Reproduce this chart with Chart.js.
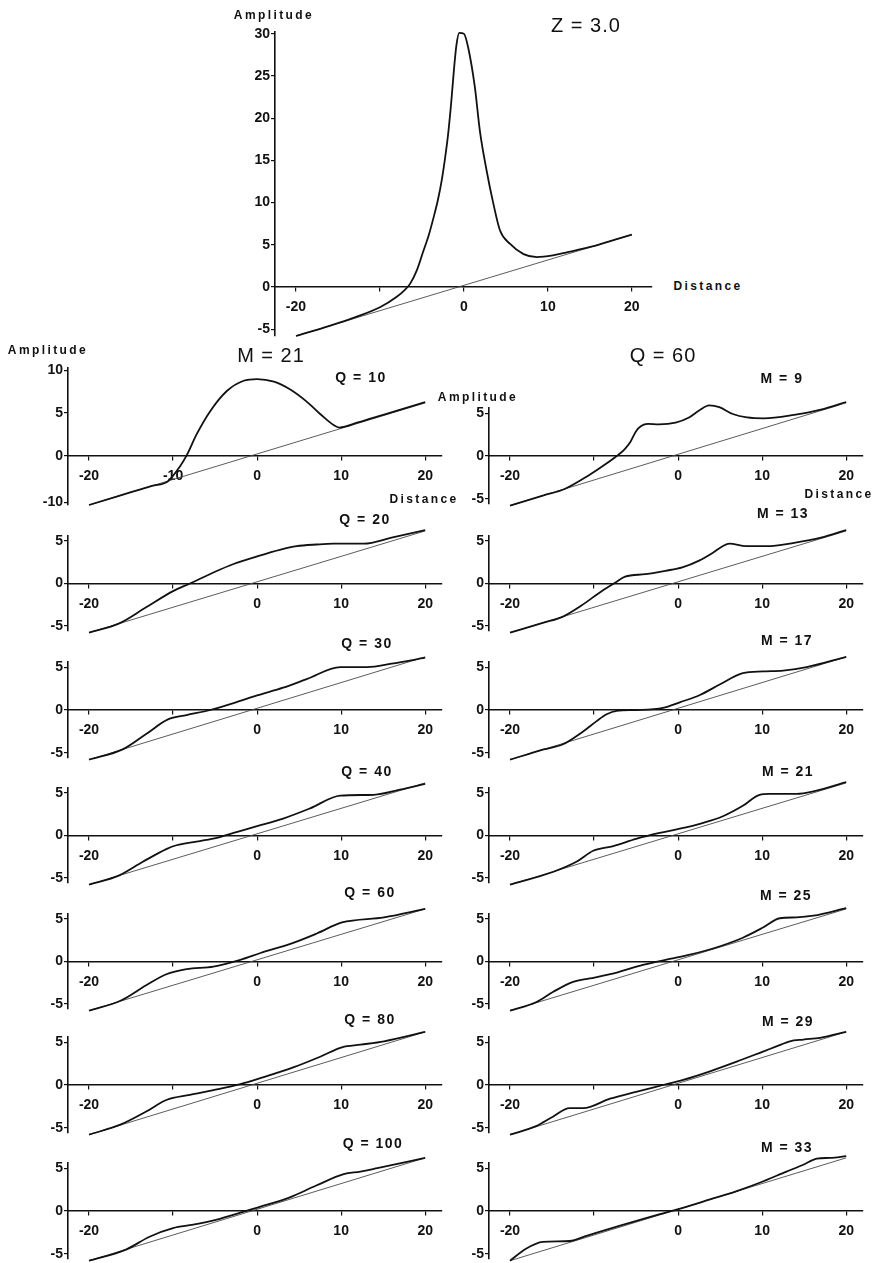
<!DOCTYPE html>
<html>
<head>
<meta charset="utf-8">
<script src="https://cdn.jsdelivr.net/npm/chart.js@4.4.1/dist/chart.umd.min.js"></script>
<style>
  html, body { margin: 0; padding: 0; background: #fff; }
  #page { position: relative; width: 876px; height: 1263px; overflow: hidden;
          font-family: "Liberation Sans", Arial, sans-serif; color: #111; }
  #page canvas { position: absolute; }
  .lbl { position: absolute; white-space: nowrap; transform: translate(-50%, -50%); z-index: 2; }
  .big { font-size: 20px; letter-spacing: 1px; }
  .axt { font-size: 12px; font-weight: bold; letter-spacing: 2.4px; }
  .ttl { font-size: 14px; font-weight: bold; letter-spacing: 1.5px; }
</style>
</head>
<body>
<div id="page"></div>
<script>
/* ---- data: [distance, amplitude] pairs ---- */

// the straight reference line drawn in every panel
const baseLine = [[-20, -5.8], [20, 6.2]];

// top panel, Z = 3.0
const curveZ30 = [[-20, -5.8], [-16, -4.6], [-13, -3.6], [-10, -2.4], [-8, -1.15], [-7, -0.3], [-6.4, 0.4],
  [-5.6, 2.0], [-4.85, 4.2], [-4.2, 6.1], [-3.65, 8.1], [-3.1, 10.3], [-2.65, 12.6], [-2.2, 15.6],
  [-1.87, 18.2], [-1.5, 22.0], [-1.2, 25.6], [-0.9, 28.6], [-0.55, 30.1], [0, 30.0], [0.5, 28.4],
  [1.3, 23.7], [1.9, 18.5], [2.7, 13.8], [3.5, 9.9], [4.3, 6.7], [5.5, 5.1], [7.1, 3.9], [8.7, 3.55],
  [10.6, 3.75], [12, 4.05], [13.8, 4.45], [16, 5.0], [18, 5.6], [20, 6.2]];

// left column, M = 21
const curveQ10 = [[-20, -5.8], [-15, -4.3], [-12.5, -3.55], [-10.6, -3.0], [-9.2, -1.3], [-8.4, 0], [-7.2, 2.5],
  [-5.6, 5.2], [-3.6, 7.6], [-1.6, 8.8], [0, 9.0], [2, 8.7], [3.9, 7.8], [5.9, 6.35], [7.5, 4.9],
  [9.1, 3.6], [9.8, 3.3], [12, 3.9], [15, 4.8], [20, 6.3]];
const curveQ20 = [[-20, -5.8], [-16.4, -4.7], [-13.2, -2.8], [-10, -0.9], [-8, 0], [-5.2, 1.3], [-2.8, 2.3],
  [0, 3.2], [2.8, 4.0], [4.7, 4.4], [7.1, 4.6], [9.1, 4.7], [12.7, 4.7], [16, 5.4], [20, 6.3]];
const curveQ30 = [[-20, -5.8], [-16, -4.6], [-13.2, -2.8], [-10.6, -1.1], [-8.4, -0.6], [-5.6, 0], [-2.8, 0.8],
  [0, 1.7], [3.1, 2.6], [5.9, 3.6], [9.9, 5.0], [13.1, 5.0], [16, 5.4], [20, 6.1]];
const curveQ40 = [[-20, -5.8], [-16.4, -4.7], [-13.6, -3.1], [-10.8, -1.6], [-9.6, -1.15], [-6.8, -0.65],
  [-4.8, -0.27], [-2.8, 0.3], [0, 1.1], [3.1, 2.0], [6.3, 3.2], [9.9, 4.7], [13.9, 4.8], [17, 5.4], [20, 6.1]];
const curveQ60 = [[-20, -5.8], [-16.2, -4.6], [-13.2, -2.8], [-10.8, -1.5], [-8.4, -0.9], [-5.2, -0.6],
  [-2, 0.2], [0.4, 1.0], [4.3, 2.2], [7.1, 3.3], [10.1, 4.6], [15.1, 5.2], [20, 6.2]];
const curveQ80 = [[-20, -5.8], [-16.2, -4.6], [-13.2, -3.1], [-10.8, -1.75], [-8, -1.15], [-5.2, -0.6],
  [-2, 0.1], [0.4, 0.8], [4.3, 2.05], [7.5, 3.3], [10.1, 4.4], [12.3, 4.7], [15.1, 5.1], [20, 6.2]];
const curveQ100 = [[-20, -5.8], [-15.6, -4.5], [-12.8, -3.0], [-10, -2.0], [-7.6, -1.6], [-4.8, -1.0],
  [-2, -0.2], [0.4, 0.5], [3.9, 1.6], [7.1, 3.0], [10.3, 4.3], [12.3, 4.6], [14.3, 5.0], [20, 6.2]];

// right column, Q = 60
const curveM9 = [[-20, -5.8], [-16, -4.6], [-13.5, -3.85], [-10.7, -2.3], [-8.7, -1.0], [-7.3, 0], [-6.4, 0.75],
  [-5.7, 1.6], [-5.0, 2.9], [-4.4, 3.5], [-3.6, 3.75], [-2.3, 3.7], [-0.3, 3.9], [1.3, 4.5], [2.5, 5.3],
  [3.7, 5.9], [4.9, 5.7], [6.5, 4.9], [8.2, 4.5], [10.2, 4.4], [13.8, 4.8], [17, 5.4], [20, 6.3]];
const curveM13 = [[-20, -5.8], [-16, -4.6], [-13.9, -4.0], [-11.5, -2.6], [-9.1, -0.9], [-7.5, 0.1], [-6.3, 0.8],
  [-3.9, 1.1], [-1.5, 1.5], [0.5, 1.9], [2.5, 2.7], [4.1, 3.6], [5.3, 4.4], [6.1, 4.7], [8.1, 4.4],
  [10.6, 4.4], [13.8, 4.8], [17, 5.4], [20, 6.3]];
const curveM17 = [[-20, -5.8], [-16, -4.6], [-13.7, -4.0], [-11.3, -2.5], [-9.7, -1.3], [-8.5, -0.5], [-7.3, -0.1],
  [-5, 0], [-1.8, 0.25], [0.2, 0.9], [2.6, 1.75], [5, 3.0], [7.7, 4.3], [10.1, 4.5], [12.5, 4.6],
  [15.3, 5.0], [20, 6.2]];
const curveM21 = [[-20, -5.8], [-14.9, -4.3], [-12.1, -3.1], [-10.1, -1.8], [-7.7, -1.25], [-5, -0.4], [-2.2, 0.3],
  [0.2, 0.8], [3, 1.5], [5.4, 2.3], [7.7, 3.5], [9.7, 4.8], [10.9, 4.9], [14.1, 4.9], [16.1, 5.2], [20, 6.3]];
const curveM25 = [[-20, -5.8], [-16.9, -4.8], [-14.9, -3.6], [-12.5, -2.4], [-10.5, -2.0], [-7.3, -1.3],
  [-4.2, -0.4], [-1, 0.3], [1.4, 0.8], [5, 1.8], [7.7, 2.8], [10.1, 4.0], [12.1, 5.1], [14.1, 5.2],
  [16.1, 5.4], [20, 6.3]];
const curveM29 = [[-20, -5.8], [-16.9, -4.8], [-14.9, -3.7], [-12.9, -2.7], [-11.3, -2.7], [-8.1, -1.6],
  [-5, -0.8], [-1.8, 0], [0.6, 0.6], [3.8, 1.6], [6.9, 2.7], [10.1, 3.9], [11.7, 4.5], [13.3, 5.1],
  [14.9, 5.3], [16.9, 5.5], [20, 6.2]];
const curveM33 = [[-20, -5.8], [-18.1, -4.4], [-16.1, -3.6], [-12.9, -3.5], [-10.9, -2.9], [-6.9, -1.7],
  [-3, -0.6], [-0.2, 0.15], [3.8, 1.35], [6.9, 2.3], [9.7, 3.3], [12.9, 4.6], [14.9, 5.4], [16.5, 6.1],
  [18.1, 6.2], [20, 6.4]];

// ticks and labels
const xTicks = [-20, -10, 0, 10, 20];
const xTickLabels = ["-20", "", "0", "10", "20"];
const xTickLabelsQ10 = ["-20", "-10", "0", "10", "20"];
const yTicksTop = [30, 25, 20, 15, 10, 5, 0, -5];
const yTickLabelsTop = ["30", "25", "20", "15", "10", "5", "0", "-5"];
const yTicksSmall = [5, 0, -5];
const yTickLabelsSmall = ["5", "0", "-5"];
const yTicksQ10 = [10, 5, 0, -5.5];
const yTickLabelsQ10 = ["10", "5", "0", "-10"];

const leftTitles = ["Q = 10", "Q = 20", "Q = 30", "Q = 40", "Q = 60", "Q = 80", "Q = 100"];
const rightTitles = ["M = 9", "M = 13", "M = 17", "M = 21", "M = 25", "M = 29", "M = 33"];
const leftCurves = [curveQ10, curveQ20, curveQ30, curveQ40, curveQ60, curveQ80, curveQ100];
const rightCurves = [curveM9, curveM13, curveM17, curveM21, curveM25, curveM29, curveM33];

/* ---- layout (pixels) ---- */
const INK = "#111";
const FONT = "'Liberation Sans', Arial, sans-serif";
const PX_X = 8.4;
const PX_Y = 8.5;
const PAD_L = 34, PAD_T = 14, PAD_R = 14, PAD_B = 14;
const LEFT_X0 = 257, RIGHT_X0 = 677.7;
const rowY0 = [456, 583.5, 710, 835.5, 961.7, 1085, 1211];
const leftTitlePos = [[361, 377], [365, 519], [367, 643], [367, 771], [370, 892], [370, 1019], [373, 1143]];
const rightTitlePos = [[782, 378], [783, 513], [787, 640], [788, 771], [786, 895], [788, 1021], [787, 1147]];

const page = document.getElementById("page");

function addText(txt, x, y, cls) {
    const d = document.createElement("div");
    d.className = "lbl " + cls;
    d.textContent = txt;
    d.style.left = x + "px";
    d.style.top = y + "px";
    page.appendChild(d);
}

function tickFont() {
    return { family: FONT, size: 14, weight: "bold" };
}

function plot(cfg) {
    const left = Math.round(cfg.x0 + cfg.xmin * PX_X);
    const right = cfg.x0 + cfg.xmax * PX_X;
    const top = Math.round(cfg.y0 - cfg.ymax * cfg.pxY);
    const bottom = cfg.y0 - cfg.ymin * cfg.pxY;
    const w = Math.round(right - left) + PAD_L + PAD_R;
    const h = Math.round(bottom - top) + PAD_T + PAD_B;

    const cv = document.createElement("canvas");
    cv.width = w; cv.height = h;
    cv.style.width = w + "px"; cv.style.height = h + "px";
    cv.style.left = (left - PAD_L) + "px";
    cv.style.top = (top - PAD_T) + "px";
    page.appendChild(cv);

    new Chart(cv, {
        type: "scatter",
        data: {
            datasets: [{
                data: cfg.curve.map(([x, y]) => ({ x, y })),
                showLine: true, borderColor: INK, borderWidth: 1.8,
                pointRadius: 0, cubicInterpolationMode: "monotone", clip: false, order: 0
            }, {
                data: baseLine.map(([x, y]) => ({ x, y })),
                showLine: true, borderColor: "#4a4a4a", borderWidth: 0.9,
                pointRadius: 0, clip: false, order: 1
            }]
        },
        options: {
            responsive: false, animation: false, events: [],
            layout: { padding: { left: 0, top: PAD_T, right: PAD_R, bottom: PAD_B } },
            plugins: { legend: { display: false }, tooltip: { enabled: false } },
            scales: {
                x: {
                    type: "linear", position: { y: 0 },
                    min: cfg.xmin, max: cfg.xmax,
                    afterBuildTicks: s => { s.ticks = xTicks.map(v => ({ value: v })); },
                    grid: { drawOnChartArea: false, tickLength: 4, color: INK, lineWidth: 1.2 },
                    border: { color: INK, width: 1.6 },
                    ticks: {
                        autoSkip: false, maxRotation: 0, padding: 8, color: INK, font: tickFont(),
                        callback: v => cfg.xLabels[xTicks.indexOf(v)]
                    }
                },
                y: {
                    type: "linear", position: "left",
                    min: cfg.ymin, max: cfg.ymax,
                    afterBuildTicks: s => { s.ticks = cfg.yTicks.map(v => ({ value: v })); },
                    afterFit: s => { s.width = PAD_L; },
                    grid: { drawOnChartArea: false, tickLength: 4, color: INK, lineWidth: 1.2 },
                    border: { color: INK, width: 1.6 },
                    ticks: {
                        autoSkip: false, padding: 1, color: INK, font: tickFont(),
                        callback: v => cfg.yLabels[cfg.yTicks.indexOf(v)]
                    }
                }
            }
        }
    });
}

// top panel
plot({ x0: 464, y0: 287, pxY: 8.45, xmin: -22.5, xmax: 22.4, ymin: -5.8, ymax: 30.2,
       curve: curveZ30, yTicks: yTicksTop, yLabels: yTickLabelsTop, xLabels: xTickLabels });

// two columns of small panels
for (let i = 0; i < 7; i++) {
    const first = i === 0;
    plot({ x0: LEFT_X0, y0: rowY0[i], pxY: PX_Y, xmin: -22.5, xmax: 22,
           ymin: first ? -5.8 : -5.6, ymax: first ? 10.3 : 5.6,
           curve: leftCurves[i],
           yTicks: first ? yTicksQ10 : yTicksSmall,
           yLabels: first ? yTickLabelsQ10 : yTickLabelsSmall,
           xLabels: first ? xTickLabelsQ10 : xTickLabels });
    plot({ x0: RIGHT_X0, y0: rowY0[i], pxY: PX_Y, xmin: -22.5, xmax: 22,
           ymin: -5.6, ymax: 5.6, curve: rightCurves[i],
           yTicks: yTicksSmall, yLabels: yTickLabelsSmall, xLabels: xTickLabels });
    addText(leftTitles[i], leftTitlePos[i][0], leftTitlePos[i][1], "ttl");
    addText(rightTitles[i], rightTitlePos[i][0], rightTitlePos[i][1], "ttl");
}

// headings and axis names
addText("Amplitude", 274, 15, "axt");
addText("Z = 3.0", 586, 25, "big");
addText("Distance", 708, 286, "axt");
addText("M = 21", 271, 355, "big");
addText("Q = 60", 663, 355, "big");
addText("Amplitude", 48, 350, "axt");
addText("Amplitude", 478, 397, "axt");
addText("Distance", 424, 499, "axt");
addText("Distance", 839, 494, "axt");
</script>
</body>
</html>
